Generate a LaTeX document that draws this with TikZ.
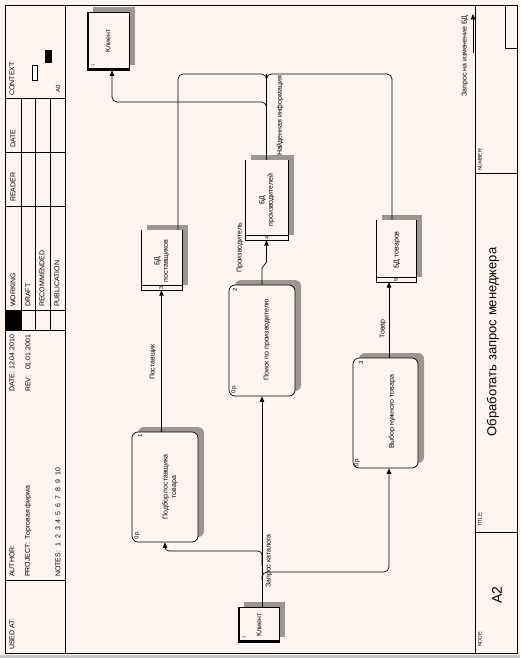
\documentclass[tikz,border=0pt]{standalone}
\usepackage{fontspec}
\setmainfont{Liberation Sans}
\usetikzlibrary{arrows.meta,shadows}
\definecolor{bgc}{RGB}{253,246,240}
\definecolor{shd}{RGB}{155,150,146}
\begin{document}
\begin{tikzpicture}[x=1pt,y=-1pt,
  fr/.style={line width=0.8pt},
  tl/.style={line width=0.6pt},
  txt/.style={rotate=90, inner sep=0pt, font=\fontsize{7}{8.5}\selectfont, align=center},
  hd/.style={rotate=90, inner sep=0pt, anchor=west, font=\fontsize{7}{8}\selectfont},
  sm/.style={rotate=90, inner sep=0pt, anchor=west, font=\fontsize{5}{6}\selectfont},
  num/.style={rotate=90, inner sep=0pt, font=\fontsize{6}{7}\selectfont},
  sh/.style={general shadow={fill=shd, shadow xshift=6pt, shadow yshift=5pt}},
  procbox/.style={draw, line width=0.7pt, fill=bgc, rounded corners=6pt, inner sep=0pt, sh},
  storebox/.style={fill=bgc, inner sep=0pt, sh},
  entbox/.style={draw, line width=0.6pt, fill=bgc, inner sep=0pt, sh},
  flow/.style={draw, line width=0.7pt, rounded corners=5pt},
  arr/.style={flow, -{Triangle[length=5.5pt,width=4.5pt]}},
]
\useasboundingbox (0,0) rectangle (520,658);
\fill[bgc] (0,0) rectangle (520,658);
\fill[black!22] (0,655) rectangle (520,658);

% ---------- frame ----------
\draw[fr] (5,5) rectangle (517,653);
\draw[fr] (65,5) -- (65,653);
\draw[fr] (475,5) -- (475,653);
% header (left strip)
\foreach \yy in {98,152,206,310,330,580} \draw[tl] (5,\yy) -- (65,\yy);
\foreach \xx in {21,35,50} \draw[tl] (\xx,98) -- (\xx,330);
\fill (5,310) rectangle (21,330);
\node[hd] (usedat) at (12,650) {USED AT:};
\node[hd] (author) at (12,577) {AUTHOR:};
\node[hd] (project) at (28,577) {PROJECT:\ \ Торговая фирма};
\node[hd] (notes) at (58,577) {NOTES:\hspace{4pt}1\hspace{4pt}2\hspace{4pt}3\hspace{4pt}4\hspace{4pt}5\hspace{4pt}6\hspace{4pt}7\hspace{4pt}8\hspace{4pt}9\hspace{4pt}10};
\node[hd] (date1) at (12,392) {DATE:\ 12.04.2010};
\node[hd] (rev) at (28,392) {REV:\ \ \ 01.01.2001};
\node[hd] (working) at (13,307) {WORKING};
\node[hd] (draft) at (28,307) {DRAFT};
\node[hd] (recom) at (42,307) {RECOMMENDED};
\node[hd] (publ) at (57,307) {PUBLICATION};
\node[hd] (reader) at (13,202) {READER};
\node[hd] (date2) at (13,148) {DATE};
\node[hd] (context) at (12,96) {CONTEXT:};
\draw[tl, fill=white] (32,65) rectangle (37,80);
\fill (45,50) rectangle (52,63);
\node[num, font=\fontsize{6}{7}\selectfont] (a0) at (58,89) {A0};
% title strip (right)
\draw[tl] (475,173) -- (517,173);
\draw[tl] (475,532) -- (517,532);
\draw[tl] (505,5) -- (505,48) -- (517,48);
\node[sm] (number) at (480,171) {NUMBER:};
\node[sm] (titlel) at (480,527) {TITLE:};
\node[sm] (nodel) at (480,647) {NODE:};
\node[rotate=90, inner sep=0pt, font=\fontsize{13}{14}\selectfont] (title) at (493,342) {Обработать запрос менеджера};
\node[rotate=90, inner sep=0pt, font=\fontsize{14}{15}\selectfont] (a2) at (497,595) {A2};

% ---------- processes ----------
\node[procbox, minimum width=66pt, minimum height=110pt] (b1) at (165,487) {};
\node[procbox, minimum width=66pt, minimum height=111pt] (b2) at (262,340.5) {};
\node[procbox, minimum width=65pt, minimum height=110pt] (b3) at (385.5,413) {};
\node[txt] (b1t) at (170,487) {Подбор поставщика\\товара};
\node[txt] (b2t) at (267,340) {Поиск по производителю};
\node[txt] (b3t) at (392,412) {Выбор нужного товара};
\node[num] (b1n) at (140,436) {1};
\node[num] (b2n) at (235,290) {2};
\node[num] (b3n) at (361,363) {3};
\node[num] (b1c) at (137,535) {0р.};
\node[num] (b2c) at (234,389) {0р.};
\node[num] (b3c) at (357,462) {0р.};

% ---------- data stores ----------
\node[storebox, minimum width=41pt, minimum height=60pt] (d1) at (161.5,260) {};
\node[storebox, minimum width=43pt, minimum height=80pt] (d2) at (266.5,200) {};
\node[storebox, minimum width=40pt, minimum height=62pt] (d3) at (396,251) {};
\foreach \d in {d1,d2,d3}{
  \draw[tl] (\d.north west) -- (\d.south west) -- (\d.south east) -- (\d.north east);
  \draw[tl] ([yshift=5pt]\d.south west) -- ([yshift=5pt]\d.south east);
}
\node[txt] (d1t) at (162,261) {БД\\поставщиков};
\node[txt] (d2t) at (267,200) {БД\\производителей};
\node[txt] (d3t) at (397,250) {БД товаров};
\node[num, font=\fontsize{5.5}{6}\selectfont] (d1n) at (161,287.5) {3};
\node[num, font=\fontsize{5.5}{6}\selectfont] (d2n) at (267,237.5) {4};
\node[num, font=\fontsize{5.5}{6}\selectfont] (d3n) at (396,279.5) {5};

% ---------- external entities ----------
\node[entbox, minimum width=42pt, minimum height=58pt] (e1) at (108,41) {};
\node[entbox, minimum width=41pt, minimum height=35pt] (e2) at (258.5,624.5) {};
\foreach \e in {e1,e2}
  \draw[line width=2pt] ([xshift=1pt]\e.north west) -- ([shift={(1pt,1pt)}]\e.south west) -- ([yshift=1pt]\e.south east);
\node[txt] (e1t) at (108,41) {Клиент};
\node[txt] (e2t) at (259,625) {Клиент};
\node[num, font=\fontsize{4}{5}\selectfont] (e1n) at (93,65) {1};
\node[num, font=\fontsize{4}{5}\selectfont] (e2n) at (244,637) {1};

% ---------- helper coordinates ----------
\coordinate (jl0) at (262,566);
\coordinate (jl) at (262,551);
\coordinate (jr0) at (262,580);
\coordinate (jr) at (262,572);
\coordinate (k1) at (262,268);
\coordinate (k2) at (266.5,262);
\coordinate (x389) at (389,0);
\coordinate (xa) at (178,0);
\coordinate (xb) at (392,0);
\coordinate (x112) at (112,0);
\coordinate (top) at (266.5,74);
\coordinate (top2) at (266.5,88);
\coordinate (jb0) at (266.5,112);
\coordinate (jb) at (266.5,102);
\coordinate (q0) at (473,53);
\coordinate (q1) at (473,14);

% ---------- flows ----------
\draw[arr] (e2.north -| b2.south) -- (b2.south);
\draw[arr, rounded corners=4pt] (jl0) -- (jl) -- (jl -| b1.south) -- (b1.south);
\draw[arr] (jr0) -- (jr) -- (jr -| x389) -- (b3.south -| x389);
\draw[arr] (b1.north -| d1.south) -- (d1.south);
\draw[arr, sharp corners] (b2.north) -- (k1) -- (k2) -- (d2.south);
\draw[arr] (b3.north -| x389) -- (d3.south -| x389);
\draw[flow] (d1.north -| xa) -- (xa |- top) -- (top) -- (top2);
\draw[flow] (d3.north -| xb) -- (xb |- top) -- (top) -- (top2);
\draw[flow] (d2.north) -- (top);
\draw[arr] (jb0) -- (jb) -- (jb -| x112) -- (e1.south -| x112);
\draw[arr] (q0) -- (q1);

% ---------- flow labels ----------
\node[txt] (l1) at (153,362) {Поставщик};
\node[txt] (l2) at (240,248) {Производитель};
\node[txt] (l3) at (383,329) {Товар};
\node[txt] (l4) at (269,561) {Запрос каталога};
\node[txt] (l5) at (280,116) {Найденная информация};
\node[txt] (l6) at (465,56) {Запрос на изменение БД};
\end{tikzpicture}
\end{document}
